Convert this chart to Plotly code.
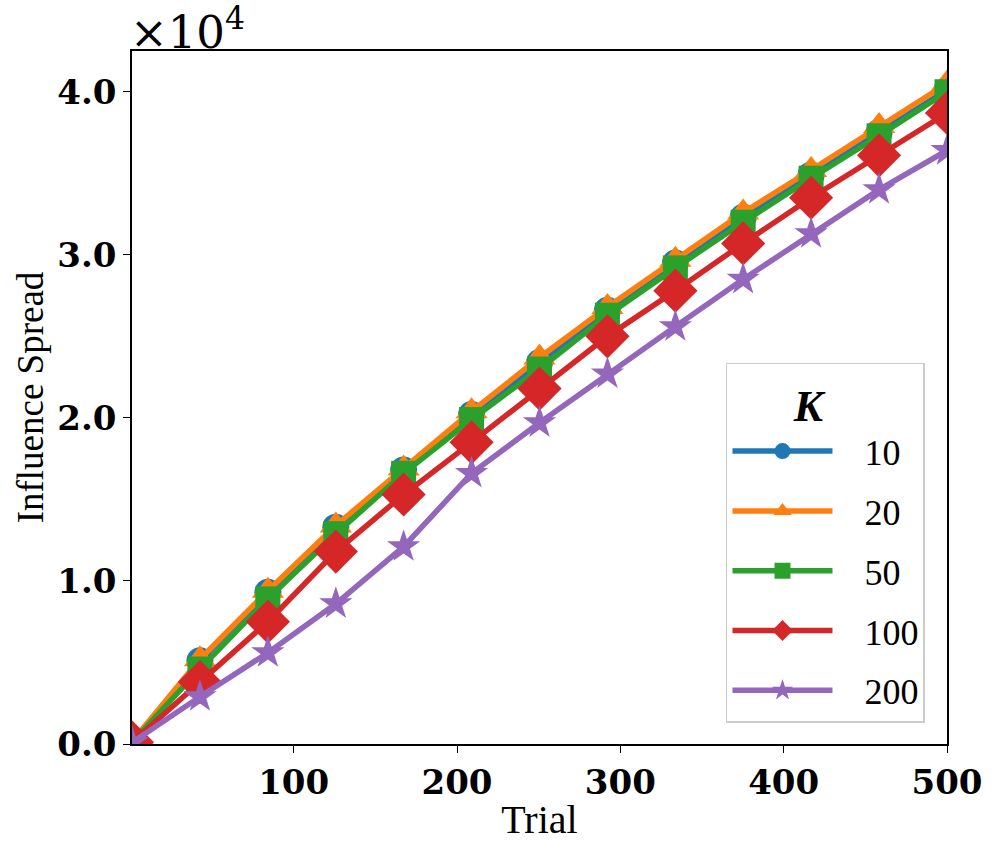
import plotly.graph_objects as go

trial = [1, 42.6, 84.2, 125.8, 167.3, 208.9, 250.5, 292.1, 333.7, 375.2, 416.8, 458.4, 500]
k_labels = ["10", "20", "50", "100", "200"]
spread_k10 = [120, 5100, 9300, 13300, 16800, 20200, 23400, 26600, 29500, 32300, 34900, 37500, 40100]
spread_k20 = [130, 5200, 9400, 13400, 16900, 20400, 23700, 26800, 29700, 32600, 35200, 37900, 40500]
spread_k50 = [110, 4600, 8900, 12900, 16600, 19900, 23000, 26300, 29200, 32000, 34700, 37300, 40000]
spread_k100 = [100, 3800, 7500, 11800, 15300, 18500, 21800, 25000, 27800, 30700, 33500, 36100, 38700]
spread_k200 = [90, 2900, 5600, 8600, 12100, 16600, 19700, 22700, 25600, 28500, 31300, 34000, 36400]

y_tickvals = [0, 10000, 20000, 30000, 40000]
y_ticktext = ["0.0", "1.0", "2.0", "3.0", "4.0"]
x_tickvals = [100, 200, 300, 400, 500]
x_ticktext = ["100", "200", "300", "400", "500"]

series = [spread_k10, spread_k20, spread_k50, spread_k100, spread_k200]
colors = ["#1f77b4", "#ff7f0e", "#2ca02c", "#d62728", "#9467bd"]
symbols = ["circle", "triangle-up", "square", "diamond", "star"]
sizes = [27, 28, 25, 34, 25]

FONT = "Liberation Serif"
TICKFONT = "DejaVu Serif"
PAD = "\u00a0\u00a0\u00a0"

fig = go.Figure()
for lab, ys, c, s, sz in zip(k_labels, series, colors, symbols, sizes):
    fig.add_trace(go.Scatter(
        x=trial, y=ys, name=PAD + lab, mode="lines+markers",
        line=dict(color=c, width=5.5),
        marker=dict(symbol=s, size=sz, color=c, line=dict(width=0)),
        legendgroup=lab,
    ))

fig.update_layout(
    width=997, height=860,
    margin=dict(l=132, r=50, t=51, b=116),
    paper_bgcolor="white", plot_bgcolor="white",
    font=dict(family=FONT, color="black"),
    showlegend=True,
    legend=dict(
        x=0.973, y=0.031, xanchor="right", yanchor="bottom",
        bgcolor="white", bordercolor="#cccccc", borderwidth=1.5,
        font=dict(family=FONT, size=36, color="black"),
        title=dict(text="<b><i>K</i></b>\u00a0\u00a0\u00a0", side="top center",
                   font=dict(family=FONT, size=44, color="black")),
        tracegroupgap=10,
        itemwidth=100,
    ),
    annotations=[dict(
        text="×10<sup>4</sup>", xref="paper", yref="paper",
        x=0, y=1.0, xanchor="left", yanchor="bottom", showarrow=False,
        font=dict(family="DejaVu Serif", size=45, color="black"), yshift=-10, xshift=-4,
    )],
)

fig.update_xaxes(
    range=[1, 500], tickvals=x_tickvals, ticktext=x_ticktext,
    showline=True, linecolor="black", linewidth=1.5, mirror=True,
    ticks="outside", ticklen=7, tickwidth=1.2, tickcolor="black",
    showgrid=False, zeroline=False,
    tickfont=dict(family=TICKFONT, size=34, color="black", weight="bold"),
    title=dict(text="Trial", font=dict(family=FONT, size=40, color="black"), standoff=4),
)
fig.update_yaxes(
    range=[0, 42500], tickvals=y_tickvals, ticktext=y_ticktext,
    showline=True, linecolor="black", linewidth=1.5, mirror=True,
    ticks="outside", ticklen=7, tickwidth=1.2, tickcolor="black",
    showgrid=False, zeroline=False,
    tickfont=dict(family=TICKFONT, size=34, color="black", weight="bold"),
    title=dict(text="Influence Spread", font=dict(family=FONT, size=37, color="black"), standoff=2),
)

fig.write_html("out.html")
